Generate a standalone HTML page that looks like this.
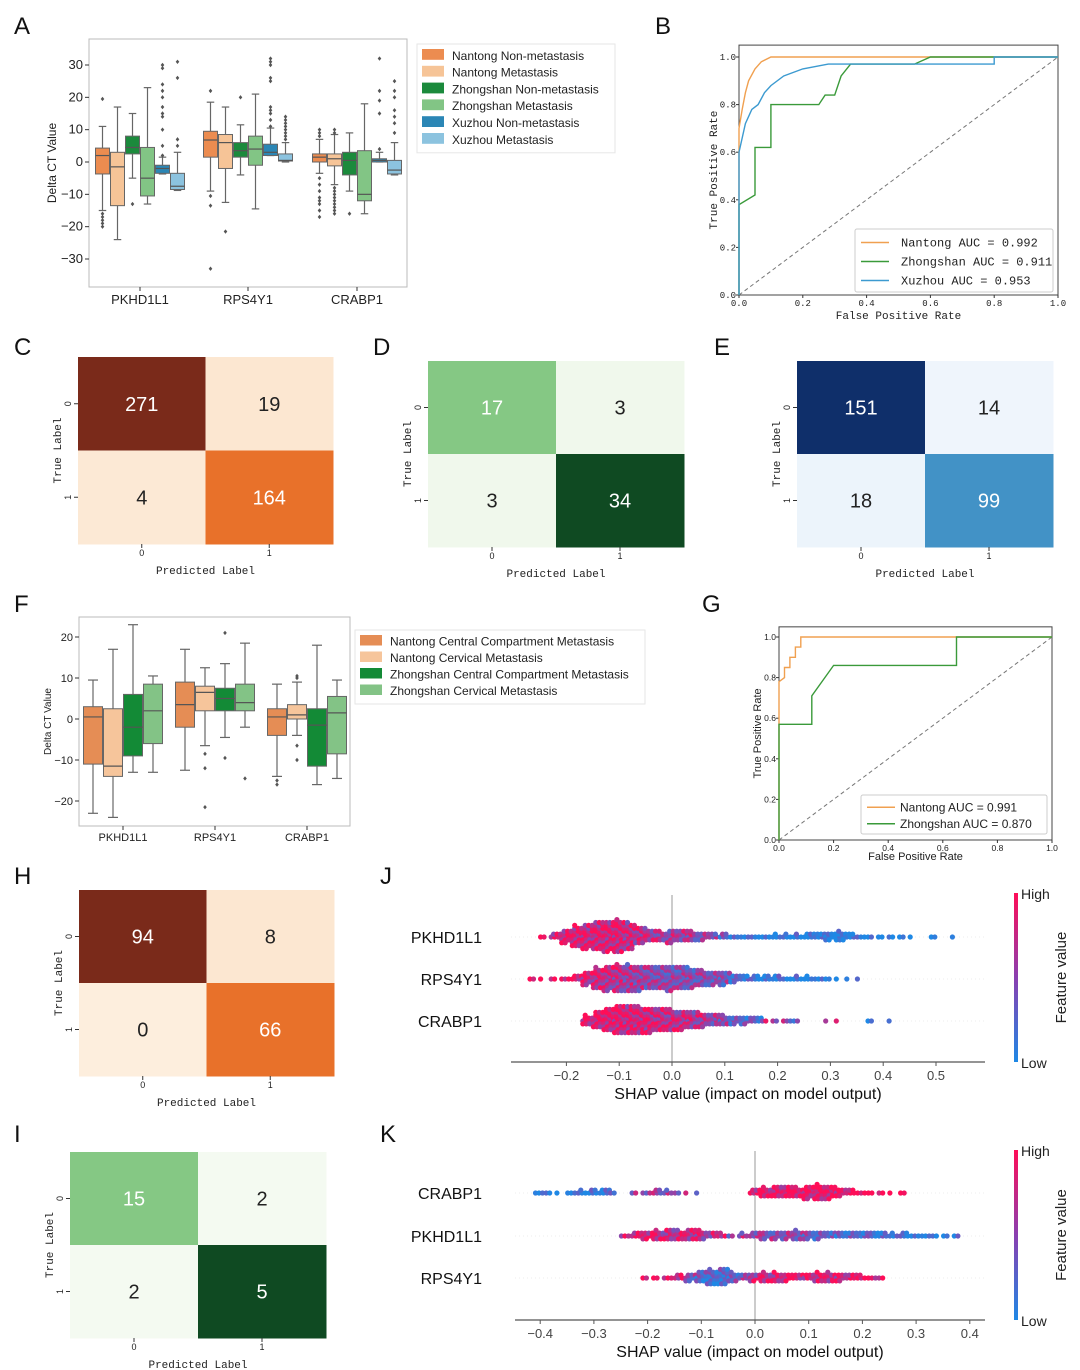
<!DOCTYPE html>
<html><head><meta charset="utf-8">
<style>
html,body{margin:0;padding:0;background:#fff;}
svg{display:block;font-family:"Liberation Sans","DejaVu Sans",sans-serif;}
</style></head>
<body>
<svg id="fig" xmlns="http://www.w3.org/2000/svg" width="1080" height="1370" viewBox="0 0 1080 1370">
<rect x="0" y="0" width="1080" height="1370" fill="#fff"/>
<g font-size="24" fill="#111">
<text x="14" y="34">A</text>
<text x="655" y="34">B</text>
<text x="14" y="355">C</text>
<text x="373" y="355">D</text>
<text x="714" y="355">E</text>
<text x="14" y="612">F</text>
<text x="702" y="612">G</text>
<text x="14" y="884">H</text>
<text x="380" y="884">J</text>
<text x="14" y="1142">I</text>
<text x="380" y="1142">K</text>
</g>
</svg>
<script>
// ---------- DATA ----------
const genes = ["PKHD1L1","RPS4Y1","CRABP1"];
const seriesA = ["Nantong Non-metastasis","Nantong Metastasis","Zhongshan Non-metastasis","Zhongshan Metastasis","Xuzhou Non-metastasis","Xuzhou Metastasis"];
const statsA_PKHD1L1 = [[-15,-3.7,2,4.3,11],[-24,-13.5,-1.5,3,17],[-5,2.5,4.5,8,15],[-13,-10.5,-5,4.5,23],[-3.7,-3.5,-2,-1,1.5],[-8.8,-8.5,-7.5,-3.5,3]];
const statsA_RPS4Y1 = [[-9,1.5,6.8,9.5,18.5],[-12.5,-2,6,8.5,17],[-4,1.5,3.5,6,11.5],[-14.5,-1,4,8,21],[2,2,3,5.5,10.5],[0,0.3,0.5,2.5,6]];
const statsA_CRABP1 = [[-3.5,0,1.5,2.5,7],[-7,-1.2,1,2.5,8.5],[-9,-4,0.5,3,9],[-16,-12,-10,3.5,18],[0,0,0.5,1,3],[-4,-3.7,-2.5,0.5,6]];
const outA_PKHD1L1 = [[19.5,-16,-17,-18,-19,-20],[],[-13],[],[2,5,10,14,15,17,20,22,24,29,30],[5,7,26,31]];
const outA_RPS4Y1 = [[22,-10.5,-13.5,-33],[-21.5],[20],[],[11,13,15,16,17,25,26,30,31,32],[7,8,9,10,11,12,13,14]];
const outA_CRABP1 = [[8,9,10,-5,-7,-9,-11,-12,-13,-15,-17],[9,10,-8,-9,-10,-11,-12,-13,-14,-15,-16],[-16],[],[4,15,19,22,32],[9,12,14,16,20,22,25]];
const yTicksA = [30,20,10,0,-10,-20,-30];

const seriesF = ["Nantong Central Compartment Metastasis","Nantong Cervical Metastasis","Zhongshan Central Compartment Metastasis","Zhongshan Cervical Metastasis"];
const statsF_PKHD1L1 = [[-23,-11,0.5,3,9.5],[-24,-14,-11.5,2.5,17],[-13,-9,-2,6,23],[-13,-6,2,8.5,10.5]];
const statsF_RPS4Y1 = [[-12.5,-2,3.5,9,17],[-6.5,2,6.5,8,12.5],[-4.5,2,5,7.5,13.5],[-2,2,4,8.5,18.5]];
const statsF_CRABP1 = [[-14,-4,0.5,2.5,8.5],[-4,0,1,3.5,9],[-16,-11.5,-1.5,2.5,18],[-14.5,-8.5,1.5,5.5,9.5]];
const outF_PKHD1L1 = [[],[],[],[]];
const outF_RPS4Y1 = [[],[-8.5,-12,-21.5],[21,-9.5],[-14.5]];
const outF_CRABP1 = [[-15,-16],[10,10.5,-6.5,-10],[],[]];
const yTicksF = [20,10,0,-10,-20];

const rocTicks = [0,0.2,0.4,0.6,0.8,1.0];
const rocB_names = ["Nantong AUC = 0.992","Zhongshan AUC = 0.911","Xuzhou AUC = 0.953"];
const rocB_NT_fpr = [0,0,0.01,0.02,0.03,0.05,0.07,0.1,1];
const rocB_NT_tpr = [0,0.7,0.78,0.85,0.9,0.95,0.98,1,1];
const rocB_ZS_fpr = [0,0,0.05,0.05,0.1,0.1,0.25,0.27,0.3,0.32,0.35,0.55,0.6,1];
const rocB_ZS_tpr = [0,0.38,0.42,0.62,0.62,0.8,0.8,0.84,0.84,0.92,0.97,0.97,1,1];
const rocB_XZ_fpr = [0,0,0.02,0.04,0.06,0.08,0.1,0.14,0.2,0.28,0.8,0.8,1];
const rocB_XZ_tpr = [0,0.6,0.72,0.78,0.8,0.85,0.88,0.92,0.95,0.97,0.97,1,1];
const rocG_names = ["Nantong AUC = 0.991","Zhongshan AUC = 0.870"];
const rocG_NT_fpr = [0,0,0.02,0.02,0.04,0.04,0.06,0.06,0.08,0.08,1];
const rocG_NT_tpr = [0,0.78,0.8,0.85,0.85,0.9,0.9,0.95,0.95,1,1];
const rocG_ZS_fpr = [0,0,0.12,0.12,0.2,0.65,0.65,1];
const rocG_ZS_tpr = [0,0.57,0.57,0.71,0.86,0.86,1,1];

const cmC = [271,19,4,164];
const cmD = [17,3,3,34];
const cmE = [151,14,18,99];
const cmH = [94,8,0,66];
const cmI = [15,2,2,5];
// colour intensity of each cell (display shading, 0..1)
const shadeC = [1,0.03,0.02,0.5];
const shadeD = [0.5,0.02,0.02,1];
const shadeE = [1,0.02,0.03,0.5];
const shadeH = [1,0.03,0,0.5];
const shadeI = [0.5,0,0,1];

const shapTicksJ = [-0.2,-0.1,0.0,0.1,0.2,0.3,0.4,0.5];
const featJ = ["PKHD1L1","RPS4Y1","CRABP1"];
const binStartJ = -0.26;
const countsJ_PKHD1L1 = [0,2,6,14,22,26,30,32,34,28,18,12,10,14,12,10,8,5,5,3,3,3,3,4,4,4,6,6,8,10,5,3,2,2,2,2,1,0,2,0,1,0];
const highJ_PKHD1L1 = [.9,.9,.85,.85,.85,.85,.85,.85,.85,.8,.75,.7,.65,.6,.6,.6,.55,.5,.4,.1,.05,.05,.05,.05,.05,.05,.05,.05,.05,.05,.05,.05,.05,0,0,0,0,0,0,0,0,0];
const countsJ_RPS4Y1 = [2,1,2,3,6,14,22,26,28,28,26,24,24,26,24,20,16,14,14,8,5,5,5,5,3,4,4,3,2,1,1,1,0,0,0,0,0,0,0,0,0,0];
const highJ_RPS4Y1 = [1,1,.95,.95,.9,.85,.8,.75,.7,.65,.6,.55,.55,.5,.5,.5,.5,.5,.45,.3,.2,.1,.1,.1,.05,.05,.05,0,0,0,0,0,0,0,0,0,0,0,0,0,0,0];
const countsJ_CRABP1 = [0,0,0,0,0,10,18,24,30,30,28,26,24,22,20,18,14,12,10,8,8,6,2,2,3,2,0,0,1,1,0,0,2,0,1,0,0,0,0,0,0,0];
const highJ_CRABP1 = [0,0,0,0,0,.9,.9,.9,.88,.85,.85,.82,.8,.75,.75,.7,.65,.6,.5,.4,.3,.3,.7,.7,.6,.4,0,0,1,1,0,0,0,0,0,0,0,0,0,0,0,0];

const shapTicksK = [-0.4,-0.3,-0.2,-0.1,0.0,0.1,0.2,0.3,0.4];
const featK = ["CRABP1","PKHD1L1","RPS4Y1"];
const binStartK = -0.40;
const countsK_CRABP1 = [3,2,1,3,4,5,6,2,0,2,3,5,4,2,1,1,0,0,0,0,6,10,12,12,10,14,16,14,8,5,3,2,2,1,2,0,0,0,0,0,0];
const highK_CRABP1 = [0,0,0,.05,.1,.1,.15,.3,0,.5,.5,.55,.6,.6,.6,.6,0,0,0,0,.9,.92,.95,.95,.95,.95,.95,.95,.95,.95,1,1,1,1,1,0,0,0,0,0,0];
const countsK_PKHD1L1 = [0,0,0,0,0,0,0,0,3,6,8,10,12,10,12,10,6,4,2,4,6,8,8,8,10,8,8,6,6,6,6,6,5,4,5,3,3,2,2,2,0];
const highK_PKHD1L1 = [0,0,0,0,0,0,0,0,.9,.85,.85,.8,.8,.8,.75,.75,.7,.7,.6,.6,.6,.55,.55,.5,.5,.4,.35,.3,.3,.3,.25,.25,.25,.2,.2,.15,.15,.1,.1,.1,0];
const countsK_RPS4Y1 = [0,0,0,0,0,0,0,0,0,0,2,2,3,5,8,12,16,18,10,6,8,10,10,8,6,6,10,10,8,6,4,3,2,0,0,0,0,0,0,0,0];
const highK_RPS4Y1 = [0,0,0,0,0,0,0,0,0,0,.95,.9,.9,.8,.5,.3,.25,.25,.35,.5,.7,.8,.85,.85,.85,.85,.85,.85,.85,.85,.9,.9,.9,0,0,0,0,0,0,0,0];

// ---------- HELPERS ----------
const svg = document.getElementById('fig');
const NS = 'http://www.w3.org/2000/svg';
function mk(tag, attrs, parent){
  const e = document.createElementNS(NS, tag);
  for (const k in attrs) e.setAttribute(k, attrs[k]);
  (parent||svg).appendChild(e);
  return e;
}
function txt(str, attrs, parent){ const t = mk('text', attrs, parent); t.textContent = str; return t; }
function hex(c){ return [parseInt(c.slice(1,3),16),parseInt(c.slice(3,5),16),parseInt(c.slice(5,7),16)]; }
function interp(ramp, t){
  const n = ramp.length-1, p = Math.min(n-1e-9, Math.max(0,t*n)), i = Math.floor(p), f = p-i;
  const a = hex(ramp[i]), b = hex(ramp[i+1]);
  return 'rgb(' + a.map((v,k)=>Math.round(v+(b[k]-v)*f)).join(',') + ')';
}

// ---------- BOXPLOTS ----------
function boxPanel(cfg){
  const g = mk('g', {});
  
  
  const y = v => cfg.y0 + (cfg.yRef - cfg.y0) * (v / cfg.vRef);
  const frame = mk('rect', {x:cfg.left, y:cfg.top, width:cfg.right-cfg.left, height:cfg.bottom-cfg.top, fill:'none', stroke:'#bbb', 'stroke-width':1}, g);
  
  
  cfg.ticks.forEach(t=>{
    const yy = y(t);
    mk('line', {x1:cfg.left-4, x2:cfg.left, y1:yy, y2:yy, stroke:'#333'}, g);
    const lab = txt(t<0 ? '\u2212'+Math.abs(t) : String(t), {x:cfg.left-6, y:yy+4, 'text-anchor':'end', 'font-size':cfg.fs, fill:'#222'}, g);
    
    
  });
  const yl = txt('Delta CT Value', {x:0, y:0, transform:`translate(${cfg.ylx},${(cfg.top+cfg.bottom)/2}) rotate(-90)`, 'text-anchor':'middle', 'font-size':cfg.fs-1, fill:'#222'}, g);
  
  
  const n = cfg.series.length;
  const bw = cfg.groupW / n;
  genes.forEach((gene, gi)=>{
    const gx = cfg.groupX[gi];
    mk('line', {x1:gx, x2:gx, y1:cfg.bottom, y2:cfg.bottom+4, stroke:'#333'}, g);
    const xl = txt(gene, {x:gx, y:cfg.bottom+cfg.fs+4, 'text-anchor':'middle', 'font-size':cfg.fs, fill:'#222'}, g);
    
    
    const stats = cfg.stats[gi], outs = cfg.outs[gi];
    stats.forEach((s, si)=>{
      const x0 = gx - cfg.groupW/2 + si*bw;
      const cx = x0 + bw/2;
      const bg = mk('g', {}, g);
      
      
      mk('line', {x1:cx, x2:cx, y1:y(s[0]), y2:y(s[1]), stroke:'#666', 'stroke-width':1.2}, bg);
      mk('line', {x1:cx, x2:cx, y1:y(s[3]), y2:y(s[4]), stroke:'#666', 'stroke-width':1.2}, bg);
      mk('line', {x1:cx-bw*0.25, x2:cx+bw*0.25, y1:y(s[0]), y2:y(s[0]), stroke:'#666', 'stroke-width':1.2}, bg);
      mk('line', {x1:cx-bw*0.25, x2:cx+bw*0.25, y1:y(s[4]), y2:y(s[4]), stroke:'#666', 'stroke-width':1.2}, bg);
      mk('rect', {x:x0+0.5, y:y(s[3]), width:bw-1, height:Math.max(1,y(s[1])-y(s[3])), fill:cfg.colors[si], stroke:'#666', 'stroke-width':1}, bg);
      mk('line', {x1:x0+0.5, x2:x0+bw-0.5, y1:y(s[2]), y2:y(s[2]), stroke:'#555', 'stroke-width':1.2}, bg);
      outs[si].forEach(o=>{
        const d = mk('path', {d:`M${cx},${y(o)-2.2}L${cx+1.8},${y(o)}L${cx},${y(o)+2.2}L${cx-1.8},${y(o)}Z`, fill:'#555'}, bg);
        
        
      });
    });
  });
  const lg = mk('g', {}, g);
  
  
  mk('rect', {x:cfg.lx, y:cfg.ly, width:cfg.lw, height:cfg.series.length*cfg.lstep+8, fill:'#fff', stroke:'#e6e6e6'}, lg);
  cfg.series.forEach((s, i)=>{
    const yy = cfg.ly + 4 + i*cfg.lstep;
    const e = mk('g', {}, lg);
    
    
    mk('rect', {x:cfg.lx+5, y:yy+1, width:22, height:cfg.lstep-6, fill:cfg.colors[i]}, e);
    txt(s, {x:cfg.lx+35, y:yy+cfg.lstep-5, 'font-size':cfg.lfs, fill:'#222'}, e);
  });
}
boxPanel({name:'panel-a-boxplot', left:89, right:407, top:39, bottom:287, y0:162, yRef:65, vRef:30,
  ticks:yTicksA, fs:13, ylx:56, groupX:[140,248,357], groupW:90, series:seriesA,
  colors:['#ec8c50','#f6c497','#1b8a3c','#82c585','#2b86b5','#8cc3df'],
  stats:[statsA_PKHD1L1,statsA_RPS4Y1,statsA_CRABP1], outs:[outA_PKHD1L1,outA_RPS4Y1,outA_CRABP1],
  lx:417, ly:44, lw:198, lstep:16.8, lfs:12});
boxPanel({name:'panel-f-boxplot', left:79, right:350, top:617, bottom:826, y0:719, yRef:637, vRef:20,
  ticks:yTicksF, fs:11, ylx:51, groupX:[123,215,307], groupW:80, series:seriesF,
  colors:['#e58d55','#f6c59b','#138a36','#83c386'],
  stats:[statsF_PKHD1L1,statsF_RPS4Y1,statsF_CRABP1], outs:[outF_PKHD1L1,outF_RPS4Y1,outF_CRABP1],
  lx:355, ly:630, lw:290, lstep:16.5, lfs:12});

// ---------- ROC ----------
function rocPanel(cfg){
  const g = mk('g', {});
  
  
  const X = v => cfg.x0 + (cfg.x1-cfg.x0)*v;
  const Y = v => cfg.y0 - (cfg.y0-cfg.y1)*v;
  mk('rect', {x:X(0), y:Y(1.05), width:X(1)-X(0), height:Y(0)-Y(1.05), fill:'none', stroke:'#444', 'stroke-width':1}, g);
  const diag = mk('line', {x1:X(0), y1:Y(0), x2:X(1), y2:Y(1), stroke:'#777', 'stroke-dasharray':'4,3', 'stroke-width':1}, g);
  
  
  rocTicks.forEach(t=>{
    mk('line', {x1:X(t), x2:X(t), y1:Y(0), y2:Y(0)+3, stroke:'#333'}, g);
    const a = txt(t.toFixed(1), {x:X(t), y:Y(0)+11, 'text-anchor':'middle', 'font-size':cfg.tfs, 'font-family':cfg.ff, fill:'#222'}, g);
    
    
    mk('line', {x1:X(0)-3, x2:X(0), y1:Y(t), y2:Y(t), stroke:'#333'}, g);
    const b = txt(t.toFixed(1), {x:X(0)-3, y:Y(t)+3, 'text-anchor':'end', 'font-size':cfg.tfs, 'font-family':cfg.ff, fill:'#222'}, g);
    
    
  });
  const xt = txt('False Positive Rate', {x:(X(0)+X(1))/2, y:Y(0)+cfg.xlo, 'text-anchor':'middle', 'font-size':cfg.lfs, 'font-family':cfg.ff, fill:'#222'}, g);
  
  
  const yt = txt('True Positive Rate', {x:0, y:0, transform:`translate(${X(0)-cfg.ylo},${(Y(0)+Y(1.05))/2}) rotate(-90)`, 'text-anchor':'middle', 'font-size':cfg.lfs, 'font-family':cfg.ff, fill:'#222'}, g);
  
  
  cfg.curves.forEach((c, i)=>{
    const pts = c[0].map((f, k)=> X(f).toFixed(1)+','+Y(c[1][k]).toFixed(1)).join(' ');
    const pl = mk('polyline', {points:pts, fill:'none', stroke:cfg.colors[i], 'stroke-width':1.4}, g);
    
    
  });
  const lg = mk('g', {}, g);
  
  
  mk('rect', {x:cfg.lx, y:cfg.ly, width:cfg.lw, height:cfg.names.length*cfg.lstep+6, fill:'#fff', stroke:'#ccc', rx:2}, lg);
  cfg.names.forEach((n, i)=>{
    const yy = cfg.ly + 4 + i*cfg.lstep + cfg.lstep/2;
    const e = mk('g', {}, lg);
    
    
    mk('line', {x1:cfg.lx+6, x2:cfg.lx+34, y1:yy, y2:yy, stroke:cfg.colors[i], 'stroke-width':1.4}, e);
    txt(n, {x:cfg.lx+cfg.ltx, y:yy+4, 'font-size':cfg.lefs, 'font-family':cfg.ff, fill:'#222'}, e);
  });
}
rocPanel({name:'panel-b-roc', x0:739, x1:1058, y0:295, y1:57, tfs:9, lfs:11, ff:'"Liberation Mono", monospace', xlo:24, ylo:22,
  curves:[[rocB_NT_fpr,rocB_NT_tpr],[rocB_ZS_fpr,rocB_ZS_tpr],[rocB_XZ_fpr,rocB_XZ_tpr]],
  names:rocB_names, colors:['#f0a050','#3a9a3a','#3c9ad0'], lx:855, ly:229, lw:198, lstep:19, ltx:46, lefs:12});
rocPanel({name:'panel-g-roc', x0:779, x1:1052, y0:840, y1:637, tfs:8.5, lfs:11, ff:'"Liberation Sans", sans-serif', xlo:20, ylo:18,
  curves:[[rocG_NT_fpr,rocG_NT_tpr],[rocG_ZS_fpr,rocG_ZS_tpr]],
  names:rocG_names, colors:['#f0a050','#3a9a3a'], lx:861, ly:795, lw:186, lstep:16.5, ltx:39, lefs:12});

// ---------- CONFUSION MATRICES ----------
function cmPanel(cfg){
  const g = mk('g', {});
  
  
  const cw = (cfg.x1-cfg.x0)/2, ch = (cfg.y1-cfg.y0)/2;
  cfg.vals.forEach((v, i)=>{
    const r = Math.floor(i/2), c = i%2;
    const t = cfg.shade[i];
    const cell = mk('rect', {x:cfg.x0+c*cw, y:cfg.y0+r*ch, width:cw+0.5, height:ch+0.5, fill:interp(cfg.ramp, t)}, g);
    
    
    const lab = txt(String(v), {x:cfg.x0+c*cw+cw/2, y:cfg.y0+r*ch+ch/2+7, 'text-anchor':'middle', 'font-size':20, fill: t>0.3 ? '#fff' : '#222'}, g);
    
    
  });
  [0,1].forEach(k=>{
    const yy = cfg.y0+k*ch+ch/2, xx = cfg.x0+k*cw+cw/2;
    mk('line', {x1:cfg.x0-4, x2:cfg.x0, y1:yy, y2:yy, stroke:'#333'}, g);
    const yl = txt(String(k), {x:0, y:0, transform:`translate(${cfg.x0-7},${yy}) rotate(-90)`, 'text-anchor':'middle', 'font-size':9, fill:'#222'}, g);
    
    
    mk('line', {x1:xx, x2:xx, y1:cfg.y1, y2:cfg.y1+4, stroke:'#333'}, g);
    const xl = txt(String(k), {x:xx, y:cfg.y1+12, 'text-anchor':'middle', 'font-size':9, fill:'#222'}, g);
    
    
  });
  const xt = txt('Predicted Label', {x:(cfg.x0+cfg.x1)/2, y:cfg.y1+30, 'text-anchor':'middle', 'font-size':11, 'font-family':'"Liberation Mono", monospace', fill:'#222'}, g);
  
  
  const yt = txt('True Label', {x:0, y:0, transform:`translate(${cfg.x0-17},${cfg.y0+ch}) rotate(-90)`, 'text-anchor':'middle', 'font-size':11, 'font-family':'"Liberation Mono", monospace', fill:'#222'}, g);
  
  
}
const orRamp = ['#fdeedd','#f6b27a','#e8712a','#b2451e','#7a2a1a'];
const grRamp = ['#f4faf1','#c0e3b8','#85c884','#2d8b47','#0f4a22'];
const blRamp = ['#f5f9fe','#a9cde6','#4292c6','#1f5ea0','#0f2f6a'];
cmPanel({name:'panel-c-confusion-matrix', x0:78, x1:333, y0:357, y1:544, vals:cmC, shade:shadeC, ramp:orRamp});
cmPanel({name:'panel-d-confusion-matrix', x0:428, x1:684, y0:361, y1:547, vals:cmD, shade:shadeD, ramp:grRamp});
cmPanel({name:'panel-e-confusion-matrix', x0:797, x1:1053, y0:361, y1:547, vals:cmE, shade:shadeE, ramp:blRamp});
cmPanel({name:'panel-h-confusion-matrix', x0:79, x1:334, y0:890, y1:1076, vals:cmH, shade:shadeH, ramp:orRamp});
cmPanel({name:'panel-i-confusion-matrix', x0:70, x1:326, y0:1152, y1:1338, vals:cmI, shade:shadeI, ramp:grRamp});

// ---------- SHAP BEESWARM ----------
function shapPanel(cfg){
  const g = mk('g', {});
  
  
  const X = v => cfg.zx + cfg.scale*v;
  mk('line', {x1:X(0), x2:X(0), y1:cfg.rows[0]-42, y2:cfg.axisY, stroke:'#999', 'stroke-width':1}, g);
  cfg.feats.forEach((f, fi)=>{
    const ry = cfg.rows[fi];
    mk('line', {x1:cfg.ax0, x2:cfg.ax1, y1:ry, y2:ry, stroke:'#eee', 'stroke-dasharray':'1,3'}, g);
    const fl = txt(f, {x:cfg.labX, y:ry+6, 'text-anchor':'end', 'font-size':16, fill:'#111'}, g);
    
    
    const counts = cfg.counts[fi], high = cfg.high[fi];
    counts.forEach((n, b)=>{
      const center = cfg.binStart + b*0.02;
      for (let i=0;i<n;i++){
        const li = Math.floor(i/3);
        const lvl = Math.floor((li+1)/2) * (li%2 ? -1 : 1);
        const col = i % 3;
        const cx = X(center) + (col-1) * cfg.scale*0.0066 + (li%2 ? 1.2 : -1.2);
        const cy = ry + lvl * 2.9;
        const ph = ((i+1)*0.61803 + b*0.3) % 1;
        const t = Math.min(1, Math.max(0, high[b] + (ph-0.5)*0.7));
        const dot = mk('circle', {cx:cx.toFixed(1), cy:cy.toFixed(1), r:2.6, fill:interp(['#1e88e5','#7b4fb8','#ff0d57'], t)}, g);
        
        
      }
    });
  });
  mk('line', {x1:cfg.ax0, x2:cfg.ax1, y1:cfg.axisY, y2:cfg.axisY, stroke:'#555', 'stroke-width':1.3}, g);
  cfg.ticks.forEach(t=>{
    mk('line', {x1:X(t), x2:X(t), y1:cfg.axisY, y2:cfg.axisY+4, stroke:'#555'}, g);
    const s = t<0 ? '\u2212'+Math.abs(t).toFixed(1) : t.toFixed(1);
    const tl = txt(s, {x:X(t), y:cfg.axisY+18, 'text-anchor':'middle', 'font-size':13, fill:'#444'}, g);
    
    
  });
  const xt = txt('SHAP value (impact on model output)', {x:(cfg.ax0+cfg.ax1)/2, y:cfg.axisY+37, 'text-anchor':'middle', 'font-size':16, fill:'#111'}, g);
  
  
  const cb = mk('rect', {x:1014, y:cfg.cbTop, width:4, height:cfg.axisY-cfg.cbTop, fill:'url(#cbgrad)'}, g);
  
  
  const hi = txt('High', {x:1021, y:cfg.cbTop+6, 'font-size':14, fill:'#222'}, g);
  
  
  const lo = txt('Low', {x:1021, y:cfg.axisY+6, 'font-size':14, fill:'#222'}, g);
  
  
  const fv = txt('Feature value', {x:0, y:0, transform:`translate(1066,${(cfg.cbTop+cfg.axisY)/2}) rotate(-90)`, 'text-anchor':'middle', 'font-size':15, fill:'#222'}, g);
  
  
}
const defs = mk('defs', {});
const grad = mk('linearGradient', {id:'cbgrad', x1:0, y1:0, x2:0, y2:1}, defs);
mk('stop', {offset:'0', 'stop-color':'#ff0d57'}, grad);
mk('stop', {offset:'0.5', 'stop-color':'#8a3fb0'}, grad);
mk('stop', {offset:'1', 'stop-color':'#1e88e5'}, grad);
shapPanel({name:'panel-j-shap', zx:672, scale:528, rows:[937,979,1021], axisY:1062, ax0:511, ax1:985, labX:482, cbTop:893,
  feats:featJ, ticks:shapTicksJ, binStart:binStartJ, counts:[countsJ_PKHD1L1,countsJ_RPS4Y1,countsJ_CRABP1], high:[highJ_PKHD1L1,highJ_RPS4Y1,highJ_CRABP1]});
shapPanel({name:'panel-k-shap', zx:755, scale:537, rows:[1193,1236,1278], axisY:1320, ax0:515, ax1:985, labX:482, cbTop:1150,
  feats:featK, ticks:shapTicksK, binStart:binStartK, counts:[countsK_CRABP1,countsK_PKHD1L1,countsK_RPS4Y1], high:[highK_CRABP1,highK_PKHD1L1,highK_RPS4Y1]});
</script>
</body></html>
